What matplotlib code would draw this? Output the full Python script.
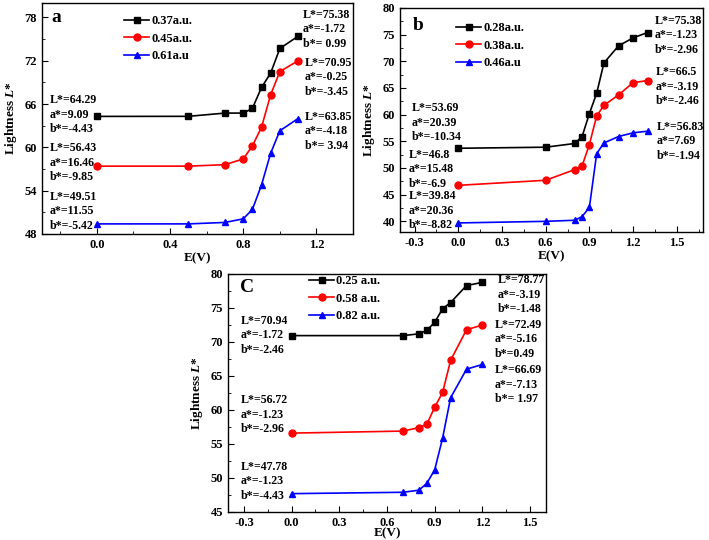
import matplotlib
matplotlib.use("Agg")
import matplotlib.pyplot as plt
from matplotlib.ticker import MultipleLocator, AutoMinorLocator

plt.rcParams['font.family'] = ['Liberation Serif', 'DejaVu Serif']
plt.rcParams['font.weight'] = 'bold'
plt.rcParams['mathtext.fontset'] = 'custom'
plt.rcParams['mathtext.it'] = 'Liberation Serif:italic:bold'

W, H = 709, 540

# ---- panel a ----
a_x = [0, 0.5, 0.7, 0.8, 0.85, 0.9, 0.95, 1.0, 1.1]
a_black = [64.29, 64.3, 64.75, 64.75, 65.4, 68.3, 70.3, 73.7, 75.4]
a_red = [57.4, 57.4, 57.6, 58.4, 60.2, 62.8, 67.3, 70.5, 72.0]
a_blue = [49.4, 49.4, 49.6, 50.1, 51.4, 54.8, 59.2, 62.3, 64.0]
a_labels = ["0.37a.u.", "0.45a.u.", "0.61a.u"]
a_left = [["L*=64.29", "a*=9.09", "b*=-4.43"],
          ["L*=56.43", "a*=16.46", "b*=-9.85"],
          ["L*=49.51", "a*=11.55", "b*=-5.42"]]
a_right = [["L*=75.38", "a*=-1.72", "b*= 0.99"],
           ["L*=70.95", "a*=-0.25", "b*=-3.45"],
           ["L*=63.85", "a*=-4.18", "b*= 3.94"]]

# ---- panel b ----
b_x = [0, 0.6, 0.8, 0.85, 0.9, 0.95, 1.0, 1.1, 1.2, 1.3]
b_black = [53.7, 53.9, 54.6, 55.9, 60.2, 64.0, 69.7, 72.9, 74.4, 75.4]
b_red = [46.75, 47.7, 49.7, 50.4, 54.4, 59.75, 61.75, 63.7, 66.0, 66.4]
b_blue = [39.7, 40.0, 40.2, 40.9, 42.6, 52.7, 54.7, 55.9, 56.6, 56.9]
b_labels = ["0.28a.u.", "0.38a.u.", "0.46a.u"]
b_left = [["L*=53.69", "a*=20.39", "b*=-10.34"],
          ["L*=46.8", "a*=15.48", "b*=-6.9"],
          ["L*=39.84", "a*=20.36", "b*=-8.82"]]
b_right = [["L*=75.38", "a*=-1.23", "b*=-2.96"],
           ["L*=66.5", "a*=-3.19", "b*=-2.46"],
           ["L*=56.83", "a*=7.69", "b*=-1.94"]]

# ---- panel c ----
c_x = [0, 0.7, 0.8, 0.85, 0.9, 0.95, 1.0, 1.1, 1.2]
c_black = [70.94, 70.94, 71.2, 71.7, 72.9, 74.9, 75.8, 78.3, 78.77]
c_red = [56.6, 56.9, 57.4, 57.9, 60.4, 62.6, 67.3, 71.8, 72.5]
c_blue = [47.7, 47.9, 48.2, 49.2, 51.2, 55.9, 61.8, 66.0, 66.7]
c_labels = ["0.25 a.u.", "0.58 a.u.", "0.82 a.u."]
c_left = [["L*=70.94", "a*=-1.72", "b*=-2.46"],
          ["L*=56.72", "a*=-1.23", "b*=-2.96"],
          ["L*=47.78", "a*=-1.23", "b*=-4.43"]]
c_right = [["L*=78.77", "a*=-3.19", "b*=-1.48"],
           ["L*=72.49", "a*=-5.16", "b*=0.49"],
           ["L*=66.69", "a*=-7.13", "b*= 1.97"]]


def box(l, t, r, b):
    # pixel box -> figure fraction rect
    return [l / W, 1 - b / H, (r - l) / W, (b - t) / H]


def txt(fig, x, y, s, **kw):
    fig.text(x / W, 1 - y / H, s, va='center', ha='left', fontsize=8.6,
             fontweight='bold', **kw)


def panel(fig, rect, x, ys, labels, xlim, ylim, xstep, ystep,
          letter, letter_pos, leg_pos, left_pos, right_pos, left_txt, right_txt,
          xlabelpad=1):
    ax = fig.add_axes(box(*rect))
    styles = [('black', 's'), ('red', 'o'), ('blue', '^')]
    for yv, lab, (c, m) in zip(ys, labels, styles):
        ax.plot(x, yv, color=c, marker=m, markersize=5, linewidth=1.2, label=lab)
    ax.set_xlim(xlim)
    ax.set_ylim(ylim)
    ax.xaxis.set_major_locator(MultipleLocator(xstep))
    ax.yaxis.set_major_locator(MultipleLocator(ystep))
    ax.xaxis.set_minor_locator(AutoMinorLocator(2))
    ax.yaxis.set_minor_locator(AutoMinorLocator(2))
    ax.xaxis.set_major_formatter(plt.FormatStrFormatter('%.1f'))
    ax.tick_params(which='both', direction='in', labelsize=9)
    ax.tick_params(which='major', length=4)
    ax.tick_params(which='minor', length=2)
    for sp in ax.spines.values():
        sp.set_linewidth(1.0)
    ax.set_xlabel('E(V)', fontsize=9.5, fontweight='bold', labelpad=xlabelpad)
    ax.set_ylabel('Lightness $L$*', fontsize=9.5, fontweight='bold', labelpad=4)
    fig.text(letter_pos[0] / W, 1 - letter_pos[1] / H, letter, fontsize=14,
             fontweight='bold', va='center', ha='left')
    ax.legend(loc='upper left', frameon=False, fontsize=9, handlelength=2.0,
              handletextpad=0.2, labelspacing=0.45,
              bbox_to_anchor=((leg_pos[0] - rect[0]) / (rect[2] - rect[0]),
                              1 - (leg_pos[1] - rect[1]) / (rect[3] - rect[1])),
              borderaxespad=0, borderpad=0)
    for (px, py), lines in zip(left_pos, left_txt):
        for i, s in enumerate(lines):
            txt(fig, px, py + i * 14.5, s)
    for (px, py), lines in zip(right_pos, right_txt):
        for i, s in enumerate(lines):
            txt(fig, px, py + i * 14.5, s)
    return ax


fig = plt.figure(figsize=(W / 100, H / 100), dpi=100)

panel(fig, (42, 3, 353, 234), a_x, [a_black, a_red, a_blue], a_labels,
      (-0.3, 1.4), (48, 80), 0.4, 6, 'a', (51, 17), (124, 15),
      [(50, 100), (50, 148), (50, 197)], [(303, 15), (305, 63), (305, 117)],
      a_left, a_right)

panel(fig, (400, 8, 703, 232), b_x, [b_black, b_red, b_blue], b_labels,
      (-0.4, 1.68), (38, 80), 0.3, 5, 'b', (413, 25), (456, 22),
      [(412, 108), (409, 155), (409, 196)], [(655, 21), (656, 72), (657, 127)],
      b_left, b_right)

panel(fig, (228, 274, 546, 512), c_x, [c_black, c_red, c_blue], c_labels,
      (-0.4, 1.6), (45, 80), 0.3, 5, 'C', (240, 287), (309, 275),
      [(241, 321), (241, 400), (241, 467)], [(498, 280), (495, 325), (495, 370)],
      c_left, c_right, xlabelpad=-1)

fig.savefig('out.png', dpi=100)
